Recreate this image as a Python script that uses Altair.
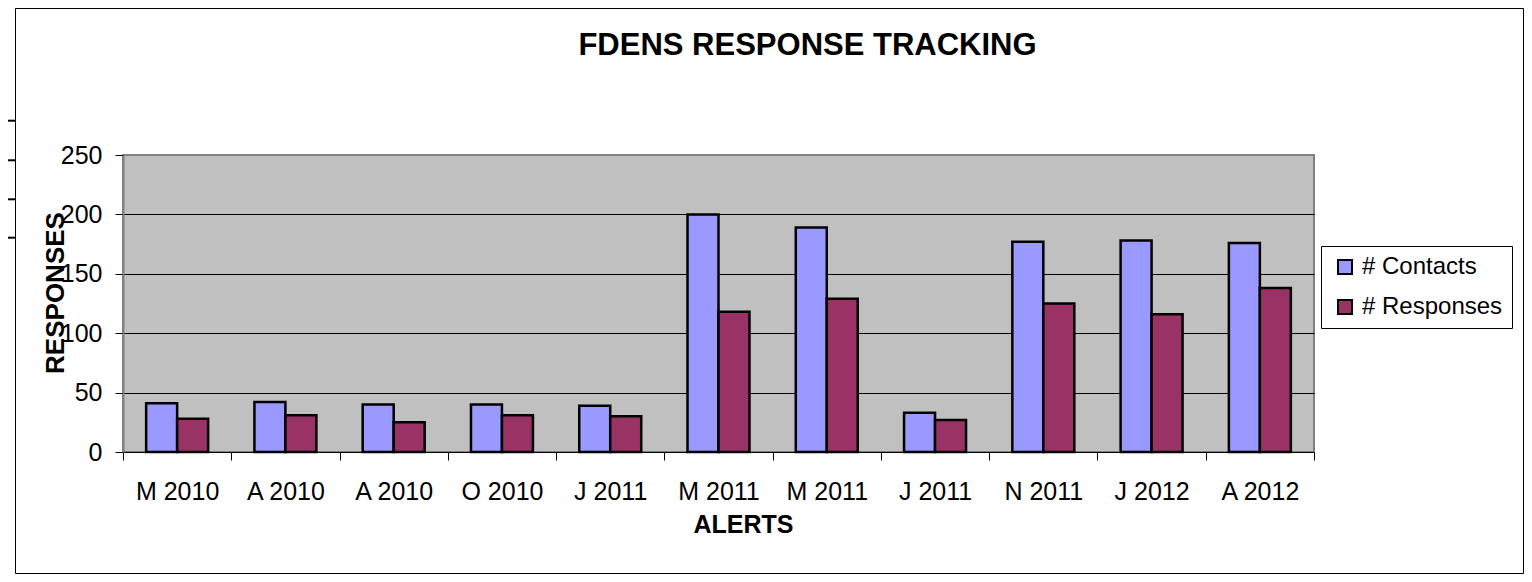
import json
import altair as alt
import pandas as pd

# ---- data ----
categories = ["M 2010", "A 2010", "A 2010", "O 2010", "J 2011", "M 2011",
              "M 2011", "J 2011", "N 2011", "J 2012", "A 2012"]
contacts = [41, 42, 40, 40, 39, 200, 189, 33, 177, 178, 176]
responses = [28, 31, 25, 31, 30, 118, 129, 27, 125, 116, 138]
series_names = ["# Contacts", "# Responses"]
series_colors = ["#9999FF", "#993366"]
y_ticks = [0, 50, 100, 150, 200, 250]

rows = []
for i, (c, r) in enumerate(zip(contacts, responses)):
    rows.append({"idx": i, "series": series_names[0], "value": c})
    rows.append({"idx": i, "series": series_names[1], "value": r})
df = pd.DataFrame(rows)

FONT = "Liberation Sans"
label_expr = json.dumps(categories) + "[datum.value]"

W, H = 1191, 297
PAD = {"left": 115, "top": 147, "right": 210, "bottom": 122}

bars = alt.Chart(df).mark_bar(stroke="black", strokeWidth=2.5).encode(
    x=alt.X(
        "idx:O",
        scale=alt.Scale(paddingInner=0, paddingOuter=0),
        axis=alt.Axis(
            title="ALERTS", labelExpr=label_expr, labelAngle=0,
            tickBand="extent", tickSize=8, tickColor="black", tickWidth=1,
            domainColor="black", domainWidth=1,
            labelFont=FONT, labelFontSize=25, labelColor="black",
            labelBaseline="alphabetic", labelPadding=39,
            titleFont=FONT, titleFontSize=25, titleFontWeight="bold",
            titleColor="black", titleX=620, titleY=80,
            titleBaseline="alphabetic", titleAlign="center", grid=False,
        ),
    ),
    xOffset=alt.XOffset(
        "series:N",
        scale=alt.Scale(domain=series_names, paddingInner=0, paddingOuter=0.747),
    ),
    y=alt.Y(
        "value:Q",
        scale=alt.Scale(domain=[0, 250], nice=False),
        axis=alt.Axis(
            values=y_ticks, title="RESPONSES", tickSize=8, tickColor="black",
            tickWidth=1, domainColor="#808080", domainWidth=2,
            grid=True,
            gridColor=alt.condition("datum.value == 250", alt.value("#808080"), alt.value("black")),
            gridWidth=1,
            labelFont=FONT, labelFontSize=25, labelColor="black", labelPadding=13,
            titleFont=FONT, titleFontSize=26, titleFontWeight="bold",
            titleColor="black", titleAngle=270, titleX=-60, titleY=137.5,
            titleBaseline="alphabetic", titleAlign="center",
        ),
    ),
    color=alt.Color(
        "series:N",
        scale=alt.Scale(domain=series_names, range=series_colors),
        legend=alt.Legend(
            title=None, orient="none", legendX=1198, legendY=91,
            fillColor="white", strokeColor="black", padding=9,
            labelFont=FONT, labelFontSize=24, labelColor="black",
            symbolType="square", symbolSize=196, symbolStrokeColor="black",
            symbolStrokeWidth=2, rowPadding=16, labelOffset=5, symbolOffset=3,
        ),
    ),
)

one = pd.DataFrame({"a": [0]})
frame = alt.Chart(one).mark_rect(fillOpacity=0, stroke="black", strokeWidth=1).encode(
    x=alt.value(-107.5), x2=alt.value(1400.5), y=alt.value(-146.5), y2=alt.value(418.5)
)
stub_y = [-34.3, 5.3, 44.3, 82.7]
stubs = [
    alt.Chart(one).mark_rule(color="black", strokeWidth=2).encode(
        x=alt.value(-115), x2=alt.value(-108), y=alt.value(v)
    )
    for v in stub_y
]

chart = alt.layer(frame, *stubs, bars).properties(
    width=W, height=H,
    autosize=alt.AutoSizeParams(type="none"),
    padding=PAD,
    background="white",
    title=alt.TitleParams(
        "FDENS RESPONSE TRACKING", font=FONT, fontSize=31, fontWeight="bold",
        color="black", anchor="middle", frame="group", dx=89, dy=78, offset=0,
        baseline="alphabetic",
    ),
).configure_view(
    fill="#C0C0C0", stroke="#808080", strokeWidth=2
).configure_legend(strokeWidth=1)

chart.save("out.html", embed_options={"renderer": "svg", "actions": False})
